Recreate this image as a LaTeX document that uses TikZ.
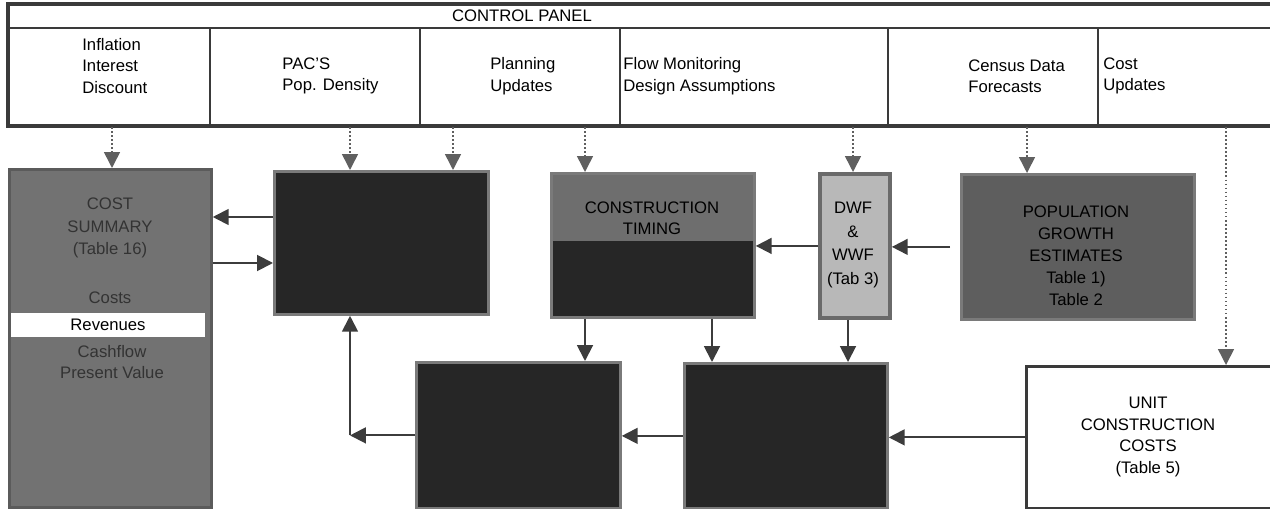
\documentclass[tikz,border=0pt]{standalone}
\usepackage{fontspec}
\setmainfont{Liberation Sans}
\usetikzlibrary{arrows.meta,calc,positioning}

\definecolor{panelline}{HTML}{3A3A3A}
\definecolor{darkbox}{HTML}{262626}
\definecolor{boxedge}{HTML}{7A7A7A}
\definecolor{costgray}{HTML}{727272}
\definecolor{bandgray}{HTML}{6E6E6E}
\definecolor{dwffill}{HTML}{B8B8B8}
\definecolor{dwfedge}{HTML}{6A6A6A}
\definecolor{popgray}{HTML}{5E5E5E}
\definecolor{linegray}{HTML}{3C3C3C}
\definecolor{dotgray}{HTML}{606060}

\tikzset{
    txt/.style = {font = \fontsize{9.5}{12.2}\selectfont, inner sep = 0pt, align = center},
    blk/.style = {draw = boxedge, line width = 1.6pt, fill = darkbox, inner sep = 0pt, anchor = north west},
    arr/.style = {draw = linegray, line width = 1.1pt, -{Triangle[length = 9pt, width = 9pt]}},
    dotarr/.style = {draw = dotgray, line width = 0.9pt, dash pattern = on 0.9pt off 1.4pt, -{Triangle[length = 9pt, width = 9pt]}}
}

\begin{document}
\begin{tikzpicture}[x = 0.02cm, y = -0.02cm]
        \useasboundingbox (0, 0) rectangle (1270, 509);

        % Control panel
            \draw[panelline, line width = 2pt] (8, 4) rectangle (1290, 126);
            \draw[panelline, line width = 1.4pt] (8, 28) -- (1290, 28);
            \foreach \x in {210, 420, 620, 888, 1098}
                \draw[panelline, line width = 1pt] (\x, 28) -- (\x, 126);
            \node[txt] (title) at (522, 16) {CONTROL PANEL};
            \node[txt, align = left, anchor = west] (econ) at (82, 66) {Inflation\\Interest\\Discount};
            \node[txt, align = left, anchor = west] (pacs) at (282, 76) {PAC'S\\Pop. Density};
            \node[txt, align = left, anchor = west] (plan) at (490, 76) {Planning\\Updates};
            \node[txt, align = left, anchor = west] (flow) at (623, 76) {Flow Monitoring\\Design Assumptions};
            \node[txt, align = left, anchor = west] (census) at (968, 76) {Census Data\\Forecasts};
            \node[txt, align = left, anchor = west] (costupd) at (1103, 76) {Cost\\Updates};

        % Kaesten
            \node[blk, fill = costgray, draw = costgray!80!black, minimum width = 4.04cm, minimum height = 6.76cm] (cost) at (8, 168) {};
            \node[blk, minimum width = 4.28cm, minimum height = 2.86cm] (pac) at (273, 170) {};
            \node[blk, minimum width = 4.06cm, minimum height = 2.88cm,
                  path picture = {\fill[bandgray] (path picture bounding box.north west) rectangle ([yshift = -1.36cm]path picture bounding box.north east);}] (timing) at (550, 172) {};
            \node[blk, fill = dwffill, draw = dwfedge, line width = 2.2pt, minimum width = 1.4cm, minimum height = 2.88cm] (dwf) at (818, 172) {};
            \node[blk, fill = popgray, minimum width = 4.66cm, minimum height = 2.9cm] (pop) at (960, 173) {};
            \node[blk, minimum width = 4.08cm, minimum height = 2.92cm] (boxB) at (415, 361) {};
            \node[blk, minimum width = 4.06cm, minimum height = 2.9cm] (boxC) at (683, 362) {};
            \node[blk, fill = white, draw = panelline, minimum width = 5.0cm, minimum height = 2.84cm] (unit) at (1025, 365) {};

        % Texte in den Kaesten
            \node[txt, text = black!80, font = \fontsize{9.5}{12.8}\selectfont] (costlbl) at (110, 228) {COST\\SUMMARY\\(Table 16)};
            \node[txt, text = black!80] (costs) at (110, 298) {Costs};
            \node[txt, fill = white, minimum width = 3.9cm, minimum height = 0.48cm] (rev) at (108, 325) {Revenues};
            \node[txt, text = black!80] (cash) at (112, 362) {Cashflow\\Present Value};
            \node[txt, text = black] (timinglbl) at (652, 218) {CONSTRUCTION\\TIMING};
            \node[txt, font = \fontsize{9.5}{13.3}\selectfont] (dwflbl) at (853, 245) {DWF\\\&\\WWF\\(Tab 3)};
            \node[txt, text = black, font = \fontsize{9.5}{12.5}\selectfont] (poplbl) at (1076, 256) {POPULATION\\GROWTH\\ESTIMATES\\Table 1)\\Table 2};
            \node[txt] (unitlbl) at (1148, 437) {UNIT\\CONSTRUCTION\\COSTS\\(Table 5)};

        % Punktierte Pfeile
            \coordinate (tocost) at (112, 127);
            \coordinate (topac) at (350, 127);
            \coordinate (toplan) at (453, 127);
            \coordinate (totiming) at (585, 127);
            \coordinate (todwf) at (853, 127);
            \coordinate (topop) at (1027, 127);
            \coordinate (tounit) at (1226, 127);
            \draw[dotarr] (tocost) -- (tocost |- cost.north);
            \draw[dotarr] (topac) -- (topac |- pac.north);
            \draw[dotarr] (toplan) -- (toplan |- pac.north);
            \draw[dotarr] (totiming) -- (totiming |- timing.north);
            \draw[dotarr] (todwf) -- (todwf |- dwf.north);
            \draw[dotarr] (topop) -- (topop |- pop.north);
            \draw[dotarr] (tounit) -- (tounit |- unit.north);

        % Pfeile
            \draw[arr] (pac.west |- 0, 217) -- (cost.east |- 0, 217);
            \draw[arr] (cost.east |- 0, 263) -- (pac.west |- 0, 263);
            \draw[arr] (dwf.west) -- (timing.east |- dwf.west);
            \draw[arr, shorten <= 0.2cm] (pop.west) -- (dwf.east |- pop.west);
            \draw[arr] (timing.south -| totiming) -- (boxB.north -| totiming);
            \draw[arr] (timing.south -| 712, 0) -- (boxC.north -| 712, 0);
            \draw[arr] (dwf.south -| 848, 0) -- (boxC.north -| 848, 0);
            \draw[arr] (unit.west) -- (boxC.east |- unit.west);
            \draw[arr] (boxC.west) -- (boxB.east |- boxC.west);
            \draw[arr] (boxB.west) -- (topac |- boxB.west);
            \draw[arr] (topac |- boxB.west) -- (topac |- pac.south);
    \end{tikzpicture}
\end{document}
